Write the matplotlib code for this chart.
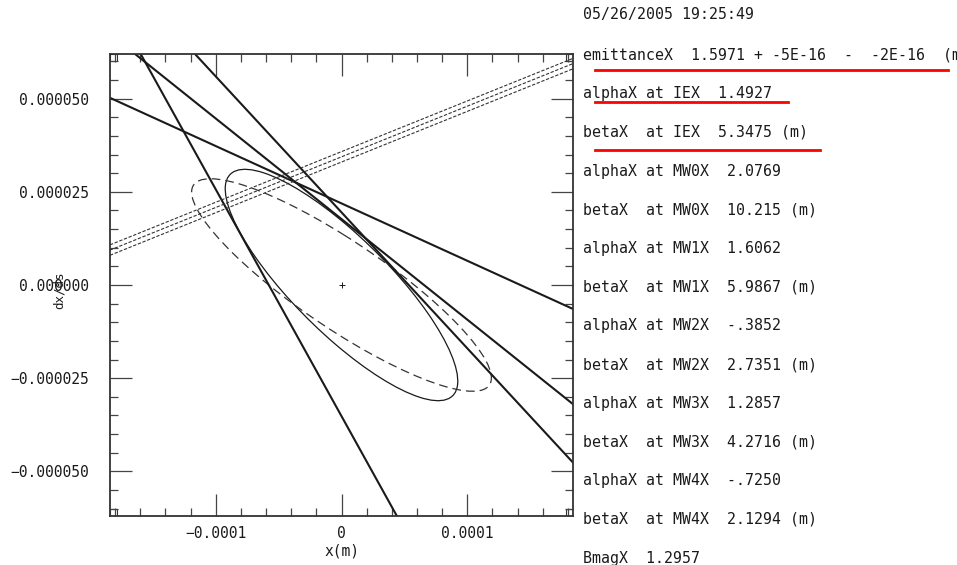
"""Wire-scanner emittance fit: phase-space ellipses and tangent lines (x plane)."""

import matplotlib
matplotlib.use("Agg")
import matplotlib.pyplot as plt
import numpy as np
from matplotlib.lines import Line2D
from matplotlib.patches import Ellipse, Rectangle
from matplotlib.ticker import FuncFormatter, MultipleLocator

# ── data ─────────────────────────────────────────────────────────────────────
stamp = "05/26/2005 19:25:49"
emit_text = "emittanceX  1.5971 + -5E-16  -  -2E-16  (m)"

locations  = ["IEX", "MW0X", "MW1X", "MW2X", "MW3X", "MW4X"]
alpha_vals = ["1.4927", "2.0769", "1.6062", "-.3852", "1.2857", "-.7250"]
beta_vals  = ["5.3475", "10.215", "5.9867", "2.7351", "4.2716", "2.1294"]
bmag_val   = "1.2957"

# fitted twiss at IEX (emittance in 1e-9 m)
fit_eps, fit_alpha, fit_beta = 1.5971e-9, 1.4927, 5.3475
# design ellipse (dashed)
des_eps, des_alpha, des_beta = 1.65e-9, 1.8, 8.6

# wire constraint lines x' = slope * x + icpt
solid_slopes = [-0.609, -0.27, -0.365, -0.154]
solid_icpts  = [-3.52e-5, 1.77e-5, 1.95e-5, 2.19e-5]
dash_slopes  = [0.136, 0.136, 0.136]
dash_icpts   = [3.58e-5, 3.44e-5, 3.30e-5]

MONO = "DejaVu Sans Mono"
INK = "#1a1a1a"


def twiss_ellipse(eps, alpha, beta, **kw):
    gamma = (1 + alpha**2) / beta
    cov = eps * np.array([[beta, -alpha], [-alpha, gamma]])
    vals, vecs = np.linalg.eigh(cov)
    ang = np.degrees(np.arctan2(vecs[1, 1], vecs[0, 1]))
    return Ellipse((0, 0), 2 * np.sqrt(vals[1]), 2 * np.sqrt(vals[0]),
                   angle=ang, fill=False, **kw)


fig = plt.figure(figsize=(9.57, 5.65), dpi=100)
ax = fig.add_axes([110 / 957, 1 - 516 / 565, 463 / 957, 462 / 565])

for m, b in zip(solid_slopes, solid_icpts):
    ax.axline((0, b), slope=m, color=INK, lw=1.5)
for m, b in zip(dash_slopes, dash_icpts):
    ax.axline((0, b), slope=m, color="#333333", lw=0.8, ls=(0, (3, 1.5)))

ax.add_patch(twiss_ellipse(fit_eps, fit_alpha, fit_beta, color=INK, lw=0.9))
ax.add_patch(twiss_ellipse(des_eps, des_alpha, des_beta, color="#333333",
                           lw=0.9, ls=(0, (7, 4))))
ax.plot(0, 0, "+", color=INK, ms=5, mew=0.7)

ax.set_xlim(-1.84e-4, 1.84e-4)
ax.set_ylim(-6.2e-5, 6.2e-5)
ax.xaxis.set_major_locator(MultipleLocator(1e-4))
ax.xaxis.set_minor_locator(MultipleLocator(2e-5))
ax.yaxis.set_major_locator(MultipleLocator(2.5e-5))
ax.yaxis.set_minor_locator(MultipleLocator(5e-6))


def _xfmt(v, _):
    if abs(v) < 1e-12:
        return "0"
    return f"{v:.4f}".replace("-", "\u2212")


def _yfmt(v, _):
    if abs(v) < 1e-12:
        v = 0.0
    return f"{v:.6f}".replace("-", "\u2212")


ax.xaxis.set_major_formatter(FuncFormatter(_xfmt))
ax.yaxis.set_major_formatter(FuncFormatter(_yfmt))

ax.tick_params(which="both", direction="in", top=True, right=True,
               colors="#444444", labelcolor=INK, labelsize=10.5)
ax.tick_params(which="major", length=16, width=0.9)
ax.tick_params(which="minor", length=5.5, width=0.9)
ax.tick_params(axis="x", pad=7)
ax.tick_params(axis="y", pad=15)
for lab in ax.get_xticklabels() + ax.get_yticklabels():
    lab.set_family(MONO)
for sp in ax.spines.values():
    sp.set_color("#333333")
    sp.set_linewidth(1.3)

# little corner boxes
bw, bh = 7 / 463, 7 / 462
for cx, cy in [(0, 0), (1 - bw, 0), (0, 1 - bh), (1 - bw, 1 - bh)]:
    ax.add_patch(Rectangle((cx, cy), bw, bh, transform=ax.transAxes,
                           fill=False, lw=0.8, ec="#333333"))

ax.set_xlabel("x(m)", family=MONO, fontsize=10.5, color=INK, labelpad=2)
fig.text(59 / 957, 1 - 290 / 565, "dx/ds", rotation=90, family=MONO,
         fontsize=9, color=INK, ha="center", va="center")

# ── text panel on the right ─────────────────────────────────────────────────
lines = [emit_text]
for loc, a, b in zip(locations, alpha_vals, beta_vals):
    lines.append(f"alphaX at {loc}  {a}")
    lines.append(f"betaX  at {loc}  {b} (m)")
lines.append(f"BmagX  {bmag_val}")

tx = 583 / 957
fig.text(tx, 1 - 15 / 565, stamp, family=MONO, fontsize=10.7, color=INK,
         va="center")
for i, s in enumerate(lines):
    fig.text(tx, 1 - (55 + 38.7 * i) / 565, s, family=MONO, fontsize=10.7,
             color=INK, va="center")

# red underlines
for y, x0, x1 in [(70, 595, 948), (102, 595, 788), (150, 595, 820)]:
    fig.add_artist(Line2D([x0 / 957, x1 / 957], [1 - y / 565, 1 - y / 565],
                          transform=fig.transFigure, color="red", lw=2))

fig.savefig("out.png", dpi=100)
